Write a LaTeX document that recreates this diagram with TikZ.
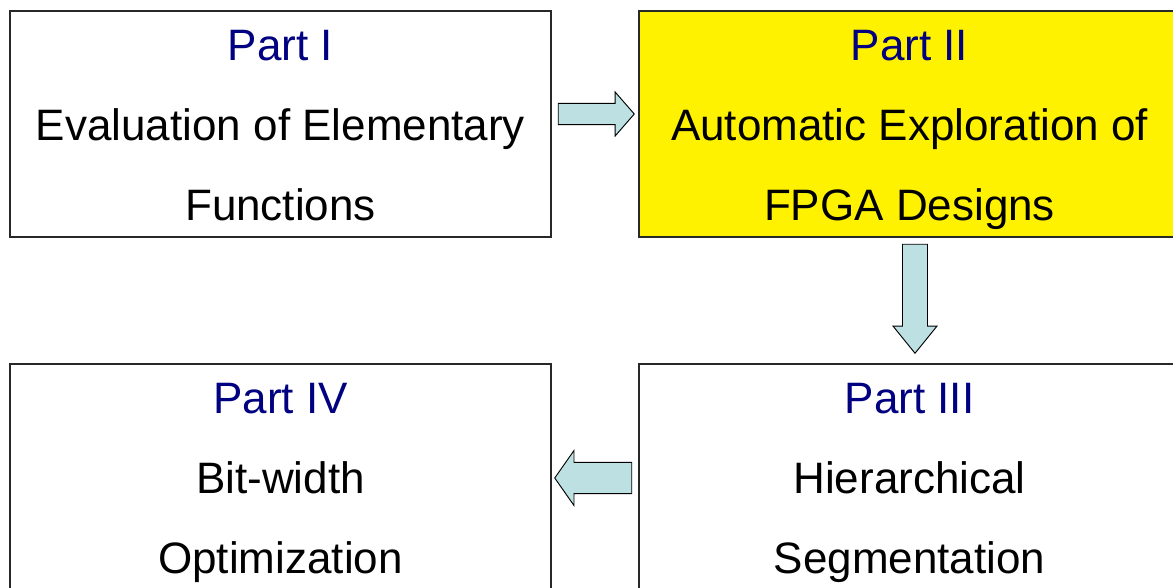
\documentclass[tikz,border=0pt]{standalone}
\usepackage{fontspec}
\setmainfont{Liberation Sans}
\usetikzlibrary{shapes.arrows,calc}
\definecolor{navy}{RGB}{0,0,128}
\definecolor{arrowfill}{RGB}{189,225,227}
\definecolor{boxline}{RGB}{40,40,40}
\tikzset{
  partbox/.style={draw=boxline, line width=1.2pt, rectangle, fill=white,
    minimum width=405.75pt, minimum height=169.5pt, inner xsep=0pt, inner ysep=-5.25pt,
    align=center, font=\fontsize{33}{60}\selectfont},
  blockarrow/.style={single arrow, draw=black, line width=0.7pt, fill=arrowfill,
    single arrow head indent=0pt, anchor=tail},
}
\newcommand{\ptitle}[1]{\strut\textcolor{navy}{#1}}
\begin{document}
\begin{tikzpicture}[x=0.75pt,y=-0.75pt]
\useasboundingbox (0,0) rectangle (1173,588);
\node[partbox] (p1) at (280.5,124) {\ptitle{Part I}\\\strut Evaluation of Elementary\\\strut Functions};
\node[partbox, fill=yellow] (p2) at (909.5,124) {\ptitle{Part II}\\\strut Automatic Exploration of\\\strut FPGA Designs};
\node[partbox] (p3) at (909.5,477) {\ptitle{Part III}\\\strut Hierarchical\\\strut Segmentation};
\node[partbox] (p4) at (280.5,477) {\ptitle{Part IV}\\\strut Bit-width\\\strut Optimization};
\node[blockarrow, minimum height=57pt, minimum width=33pt, inner xsep=0pt, inner ysep=6.4pt,
  single arrow tip angle=98] (a12) at ($(p1.east)+(6,-10)$) {};
\node[blockarrow, minimum height=81.75pt, minimum width=33pt, inner ysep=0pt, inner xsep=9pt,
  single arrow tip angle=78, shape border rotate=270] (a23) at ($(p2.south)+(5.5,6)$) {};
\node[blockarrow, minimum height=57.75pt, minimum width=41.25pt, inner xsep=0pt, inner ysep=9pt,
  single arrow tip angle=110, shape border rotate=180] (a34) at ($(p3.west)+(-6,1)$) {};
\end{tikzpicture}
\end{document}
